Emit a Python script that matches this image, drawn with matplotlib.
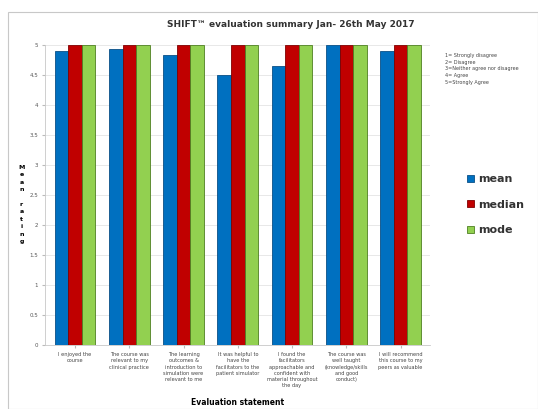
import matplotlib.pyplot as plt
import numpy as np
from matplotlib.patches import Rectangle

# data
statements = [
    "I enjoyed the\ncourse",
    "The course was\nrelevant to my\nclinical practice",
    "The learning\noutcomes &\nintroduction to\nsimulation were\nrelevant to me",
    "It was helpful to\nhave the\nfacilitators to the\npatient simulator",
    "I found the\nfacilitators\napproachable and\nconfident with\nmaterial throughout\nthe day",
    "The course was\nwell taught\n(knowledge/skills\nand good\nconduct)",
    "I will recommend\nthis course to my\npeers as valuable",
]
mean = [4.9, 4.93, 4.83, 4.5, 4.65, 5.0, 4.9]
median = [5, 5, 5, 5, 5, 5, 5]
mode = [5, 5, 5, 5, 5, 5, 5]
yticks = [0, 0.5, 1, 1.5, 2, 2.5, 3, 3.5, 4, 4.5, 5]
scale_note = ["1= Strongly disagree", "2= Disagree",
              "3=Neither agree nor disagree", "4= Agree", "5=Strongly Agree"]

fig = plt.figure(figsize=(5.38, 4.09), dpi=100)
fig.patches.append(Rectangle((8/538, 0), 1 - 8/538, 1 - 12/409, transform=fig.transFigure,
                             fill=False, edgecolor='#c8c8c8', lw=0.8))

ax = fig.add_axes([0.084, 0.156, 0.716, 0.734])
x = np.arange(len(statements))
w = 0.25
ax.bar(x - w, mean, w, color='#0070c0', edgecolor='#0a4f86', lw=0.6, label='mean', zorder=3)
ax.bar(x, median, w, color='#c00000', edgecolor='#800000', lw=0.6, label='median', zorder=3)
ax.bar(x + w, mode, w, color='#92d050', edgecolor='#4f7f22', lw=0.6, label='mode', zorder=3)

ax.set_ylim(0, 5)
ax.set_xlim(-0.55, len(statements) - 0.45)
ax.set_yticks(yticks)
ax.set_yticklabels([('%g' % t) for t in yticks], fontsize=4, color='#555555')
ax.set_xticks(x)
ax.set_xticklabels(statements, fontsize=3.6, color='#444444', linespacing=1.3)
ax.tick_params(length=2, color='#bbbbbb', pad=3)
ax.grid(axis='y', color='#e4e4e4', lw=0.6, zorder=0)
for s in ['top', 'right']:
    ax.spines[s].set_visible(False)
for s in ['left', 'bottom']:
    ax.spines[s].set_color('#c8c8c8')
    ax.spines[s].set_linewidth(0.6)

ax.set_xlabel('Evaluation statement', fontsize=5.5, fontweight='bold', labelpad=4)
ax.xaxis.set_label_coords(0.5, -0.175)
fig.text(0.04, 0.5, '\n'.join('Mean rating'), fontsize=4.5, fontweight='bold',
         ha='center', va='center', linespacing=1.6)

fig.text(0.54, 0.94, 'SHIFT\u2122 evaluation summary Jan- 26th May 2017',
         fontsize=6.5, fontweight='bold', ha='center', va='center', color='#333333')
fig.text(0.828, 0.87, '\n'.join(scale_note), fontsize=3.5, ha='left', va='top',
         color='#444444', linespacing=1.4)

leg = fig.legend(loc='center left', bbox_to_anchor=(0.85, 0.5), frameon=False,
                 prop={'size': 8, 'weight': 'bold'}, handlelength=0.6, handleheight=0.6,
                 labelspacing=1.4, handletextpad=0.4)
for t in leg.get_texts():
    t.set_color('#333333')

fig.savefig('out.png', dpi=100)
